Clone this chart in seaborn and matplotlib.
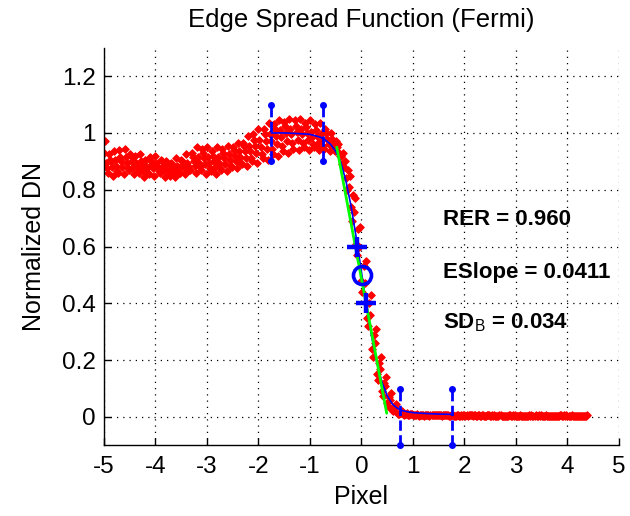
import numpy as np
import pandas as pd
import matplotlib
matplotlib.use("Agg")
import matplotlib.pyplot as plt
import seaborn as sns

# ---------------- data ----------------
pixel_start = -5.0
pixel_step = 0.1
n_samples = 94
row_shift = [0.0, 0.02, 0.04, 0.06, 0.08]

esf_row1 = [
    0.93, 0.925, 0.935, 0.94, 0.945, 0.925, 0.92, 0.925, 0.905, 0.915,
    0.92, 0.905, 0.90, 0.895, 0.91, 0.905, 0.925, 0.93, 0.95, 0.945,
    0.95, 0.935, 0.95, 0.945, 0.955, 0.95, 0.965, 0.965, 0.99, 0.995,
    1.015, 1.015, 1.035, 1.03, 1.045, 1.04, 1.05, 1.045, 1.05, 1.035,
    1.045, 1.03, 1.035, 1.015,
    1.0, 0.97, 0.92, 0.84, 0.74, 0.61, 0.48, 0.35, 0.24, 0.15, 0.09, 0.05, 0.025, 0.012,
    0.010, 0.008, 0.006, 0.005, 0.005, 0.006, 0.007, 0.006, 0.005, 0.004,
    0.003, 0.004, 0.005, 0.006, 0.005, 0.004, 0.003, 0.003, 0.004, 0.005,
    0.004, 0.003, 0.002, 0.003, 0.004, 0.005, 0.004, 0.003, 0.002, 0.003,
    0.004, 0.003, 0.002, 0.003, 0.004, 0.003]

esf_row2 = [
    0.97, 0.905, 0.905, 0.915, 0.915, 0.92, 0.895, 0.90, 0.885, 0.90,
    0.895, 0.90, 0.885, 0.89, 0.885, 0.90, 0.895, 0.915, 0.915, 0.93,
    0.915, 0.92, 0.915, 0.93, 0.925, 0.94, 0.935, 0.955, 0.955, 0.975,
    0.975, 0.995, 0.995, 1.015, 1.01, 1.025, 1.015, 1.025, 1.015, 1.02,
    1.005, 1.01, 0.995, 1.0,
    0.98, 0.95, 0.89, 0.80, 0.69, 0.57, 0.44, 0.32, 0.21, 0.13, 0.075, 0.04, 0.02, 0.01,
    0.008, 0.006, 0.005, 0.004, 0.003, 0.004, 0.005, 0.006, 0.005, 0.003,
    0.002, 0.003, 0.004, 0.005, 0.004, 0.003, 0.002, 0.003, 0.004, 0.004,
    0.003, 0.002, 0.002, 0.003, 0.004, 0.003, 0.002, 0.002, 0.003, 0.004,
    0.003, 0.002, 0.003, 0.004, 0.003, 0.002]

esf_row3 = [
    0.895, 0.90, 0.885, 0.90, 0.895, 0.90, 0.88, 0.885, 0.875, 0.89,
    0.88, 0.885, 0.87, 0.88, 0.875, 0.89, 0.885, 0.90, 0.895, 0.91,
    0.895, 0.90, 0.895, 0.91, 0.905, 0.92, 0.915, 0.935, 0.935, 0.955,
    0.95, 0.97, 0.97, 0.99, 0.985, 1.0, 0.995, 1.005, 0.995, 1.0,
    0.985, 0.99, 0.975, 0.98,
    0.97, 0.96, 0.93, 0.87, 0.78, 0.66, 0.53, 0.40, 0.29, 0.19, 0.12, 0.07, 0.035, 0.015,
    0.012, 0.010, 0.008, 0.007, 0.006, 0.005, 0.006, 0.007, 0.006, 0.005,
    0.004, 0.005, 0.006, 0.005, 0.004, 0.005, 0.006, 0.005, 0.004, 0.003,
    0.004, 0.005, 0.004, 0.003, 0.003, 0.004, 0.005, 0.004, 0.003, 0.003,
    0.004, 0.005, 0.004, 0.003, 0.003, 0.004]

esf_row4 = [
    0.875, 0.88, 0.865, 0.88, 0.875, 0.88, 0.865, 0.87, 0.86, 0.875,
    0.865, 0.87, 0.855, 0.865, 0.86, 0.875, 0.87, 0.885, 0.88, 0.89,
    0.875, 0.88, 0.875, 0.89, 0.885, 0.90, 0.895, 0.91, 0.91, 0.93,
    0.925, 0.945, 0.945, 0.96, 0.955, 0.97, 0.965, 0.975, 0.965, 0.975,
    0.96, 0.965, 0.955, 0.96,
    0.95, 0.93, 0.88, 0.81, 0.72, 0.60, 0.47, 0.36, 0.26, 0.17, 0.11, 0.06, 0.03, 0.015,
    0.011, 0.009, 0.007, 0.006, 0.005, 0.006, 0.005, 0.004, 0.005, 0.006,
    0.005, 0.004, 0.003, 0.004, 0.005, 0.006, 0.005, 0.004, 0.003, 0.004,
    0.005, 0.004, 0.003, 0.004, 0.005, 0.004, 0.003, 0.002, 0.003, 0.004,
    0.005, 0.004, 0.003, 0.002, 0.003, 0.004]

esf_row5 = [
    0.86, 0.85, 0.86, 0.855, 0.87, 0.855, 0.86, 0.845, 0.855, 0.85,
    0.86, 0.845, 0.85, 0.845, 0.86, 0.855, 0.87, 0.86, 0.87, 0.855,
    0.865, 0.855, 0.87, 0.865, 0.88, 0.875, 0.89, 0.885, 0.90, 0.895,
    0.91, 0.905, 0.925, 0.92, 0.935, 0.93, 0.945, 0.94, 0.95, 0.94,
    0.95, 0.94, 0.945, 0.935,
    0.935, 0.92, 0.90, 0.85, 0.77, 0.67, 0.55, 0.43, 0.31, 0.21, 0.14, 0.085, 0.045, 0.02,
    0.014, 0.011, 0.009, 0.008, 0.007, 0.006, 0.007, 0.008, 0.007, 0.006,
    0.005, 0.006, 0.007, 0.006, 0.005, 0.004, 0.005, 0.006, 0.005, 0.004,
    0.005, 0.006, 0.005, 0.004, 0.004, 0.005, 0.006, 0.005, 0.004, 0.004,
    0.005, 0.006, 0.005, 0.004, 0.004, 0.005]

fit_x = [-1.75, -1.5, -1.25, -1.0, -0.9, -0.8, -0.7, -0.6, -0.5, -0.4, -0.3,
         -0.2, -0.1, 0.0, 0.1, 0.2, 0.3, 0.4, 0.5, 0.6, 0.7, 0.8, 0.9, 1.0,
         1.25, 1.5, 1.75]
fit_y = [1.0, 1.0, 0.998, 0.995, 0.99, 0.985, 0.975, 0.96, 0.935, 0.895, 0.83,
         0.74, 0.63, 0.51, 0.39, 0.28, 0.19, 0.12, 0.075, 0.045, 0.03, 0.022,
         0.018, 0.015, 0.012, 0.01, 0.009]

slope_x = [-0.48, 0.49]
slope_y = [0.95, 0.013]

cross_x = [-0.09, 0.09]
cross_y = [0.6, 0.4]
center_x = [0.016]
center_y = [0.5]

bar_x = [-1.75, -0.75, 0.75, 1.75]
bar_center = [1.0, 1.0, 0.0, 0.0]
bar_half = 0.1

stats_labels = ["RER = 0.960", "ESlope = 0.0411", r"SD$_{\mathrm{B}}$ = 0.034"]
stats_y = [0.694, 0.507, 0.331]
stats_x = 1.58

x_ticks = [-5, -4, -3, -2, -1, 0, 1, 2, 3, 4, 5]
y_ticks = [0, 0.2, 0.4, 0.6, 0.8, 1.0, 1.2]
y_tick_labels = ["0", "0.2", "0.4", "0.6", "0.8", "1", "1.2"]

# ---------------- style ----------------
sns.set_theme(style="white")
plt.rcParams["font.family"] = ["Liberation Sans", "DejaVu Sans"]
plt.rcParams["mathtext.fontset"] = "custom"
plt.rcParams["mathtext.rm"] = "Liberation Sans"
plt.rcParams["text.color"] = "black"
plt.rcParams["axes.labelcolor"] = "black"
plt.rcParams["xtick.color"] = "black"
plt.rcParams["ytick.color"] = "black"

rows = [esf_row1, esf_row2, esf_row3, esf_row4, esf_row5]
sample_x = pixel_start + pixel_step * np.arange(n_samples)
frames = []
for k, (vals, sh) in enumerate(zip(rows, row_shift)):
    frames.append(pd.DataFrame({"Pixel": sample_x + sh, "DN": vals, "row": k}))
df = pd.concat(frames, ignore_index=True)

fig = plt.figure(figsize=(6.3, 5.16), dpi=100)
ax = fig.add_axes([0.165, 0.137, 0.8175, 0.7705])

sns.scatterplot(data=df, x="Pixel", y="DN", marker="D", color="red",
                edgecolor="red", s=15, linewidth=0.7, ax=ax, legend=False,
                zorder=2)
sns.lineplot(x=fit_x, y=fit_y, color="blue", lw=1.2, ax=ax, zorder=3)
sns.lineplot(x=slope_x, y=slope_y, color=(0, 1, 0), lw=2, ax=ax, zorder=4)

for bx, bc in zip(bar_x, bar_center):
    ax.plot([bx, bx], [bc - bar_half, bc + bar_half], color="blue", ls="--",
            lw=2, marker=".", ms=8, clip_on=False, zorder=5)

ax.plot(cross_x, cross_y, ls="none", marker="+", color="blue", ms=15, mew=3.2,
        zorder=6)
ax.plot(center_x, center_y, ls="none", marker="o", mfc="none", mec="blue",
        ms=13, mew=2.6, zorder=6)

for lab, yy in zip(stats_labels, stats_y):
    ax.text(stats_x, yy, lab, fontsize=16, fontweight="bold", va="center",
            ha="left", color="black", zorder=7)

ax.set_xlim(-5, 5)
ax.set_ylim(-0.1, 1.3)
ax.set_xticks(x_ticks)
ax.set_xticklabels([str(t) for t in x_ticks])
ax.set_yticks(y_ticks)
ax.set_yticklabels(y_tick_labels)
ax.grid(True, color="black", linestyle=(0, (1, 4)), lw=0.9)
ax.set_axisbelow(True)
for s in ["top", "right"]:
    ax.spines[s].set_visible(False)
for s in ["left", "bottom"]:
    ax.spines[s].set_color("black")
    ax.spines[s].set_linewidth(1.0)
ax.tick_params(axis="both", direction="in", length=5, width=1, colors="black",
               labelsize=17.5, left=True, bottom=True)
ax.tick_params(axis="x", pad=8)
ax.tick_params(axis="y", pad=6)
ax.set_xlabel("Pixel", fontsize=18, labelpad=5)
ax.set_ylabel("Normalized DN", fontsize=18, labelpad=11)
ax.set_title("Edge Spread Function (Fermi)", fontsize=18.5, pad=15)

fig.savefig("out.png", dpi=100)
